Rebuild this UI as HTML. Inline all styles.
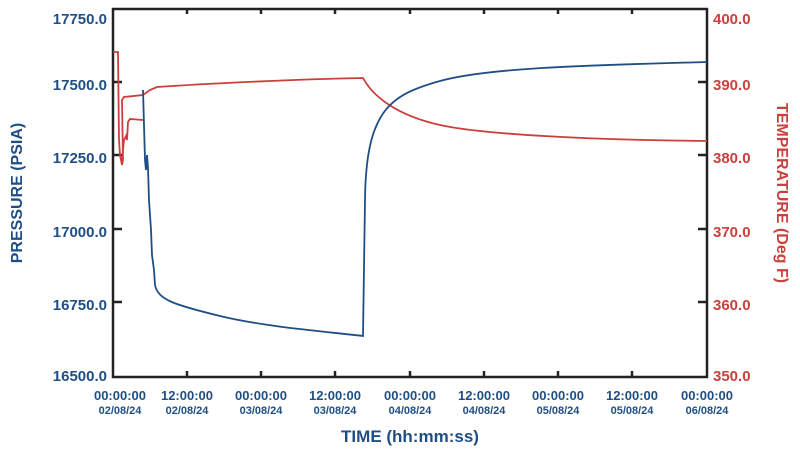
<!DOCTYPE html>
<html><head><style>
body{margin:0;background:#fff;width:800px;height:451px;overflow:hidden}
text{font-family:"Liberation Sans",Arial,sans-serif;font-weight:bold}
</style></head><body>
<svg width="800" height="451" viewBox="0 0 800 451" xmlns="http://www.w3.org/2000/svg">
<g fill="#1f4e84" font-size="15" text-anchor="end">
<text x="107" y="24">17750.0</text>
<text x="107" y="90">17500.0</text>
<text x="107" y="163">17250.0</text>
<text x="107" y="237">17000.0</text>
<text x="107" y="310">16750.0</text>
<text x="107" y="381">16500.0</text>
</g>
<g fill="#c9403c" font-size="15" text-anchor="start">
<text x="713" y="24">400.0</text>
<text x="713" y="90">390.0</text>
<text x="713" y="163">380.0</text>
<text x="713" y="237">370.0</text>
<text x="713" y="310">360.0</text>
<text x="713" y="381">350.0</text>
</g>
<text transform="translate(22,193) rotate(-90)" fill="#1f4e84" font-size="16" text-anchor="middle">PRESSURE (PSIA)</text>
<text transform="translate(777,193) rotate(90)" fill="#c9403c" font-size="16" text-anchor="middle">TEMPERATURE (Deg F)</text>
<g fill="#1f4e84" text-anchor="middle">
<g font-size="13">
<text x="120" y="400">00:00:00</text><text x="187" y="400">12:00:00</text><text x="261" y="400">00:00:00</text><text x="335" y="400">12:00:00</text><text x="410" y="400">00:00:00</text><text x="484" y="400">12:00:00</text><text x="558" y="400">00:00:00</text><text x="632" y="400">12:00:00</text><text x="707" y="400">00:00:00</text>
</g>
<g font-size="11">
<text x="120" y="414">02/08/24</text><text x="187" y="414">02/08/24</text><text x="261" y="414">03/08/24</text><text x="335" y="414">03/08/24</text><text x="410" y="414">04/08/24</text><text x="484" y="414">04/08/24</text><text x="558" y="414">05/08/24</text><text x="632" y="414">05/08/24</text><text x="707" y="414">06/08/24</text>
</g>
<text x="410" y="442" font-size="17">TIME (hh:mm:ss)</text>
</g>
<g stroke="#222" stroke-width="2.5">
<path d="M113 9V377H707V9Z" fill="none"/>
<path d="M187 377v-6M261 377v-6M335 377v-6M410 377v-6M484 377v-6M558 377v-6M632 377v-6M187 9v5M261 9v5M335 9v5M410 9v5M484 9v5M558 9v5M632 9v5M113 82h9M113 155h9M113 229h9M113 302h9M707 82h-9M707 155h-9M707 229h-9M707 302h-9"/>
</g>
<path fill="none" stroke="#c9403c" stroke-width="1.8" d="M113 52H118L119 140L120 155L122 165L123 160L122 100L124 97L143 95L150 90L157 87C200 84 300 79 363 78C372 95 395 115 440 125S600 140 707 141"/>
<path fill="none" stroke="#c9403c" stroke-width="1.8" d="M122 160L124 140L126 136L127 140L128 122L130 119L143 120"/>
<path fill="none" stroke="#1f4e84" stroke-width="1.8" d="M143 90L145 160L146 170L147 155L148 168L149 200L151 230L152 255L154 270L155 285C158 300 175 305 220 316S330 332 363 336L365 200C366 110 390 95 440 81S600 65 707 62"/>
</svg>
</body></html>
